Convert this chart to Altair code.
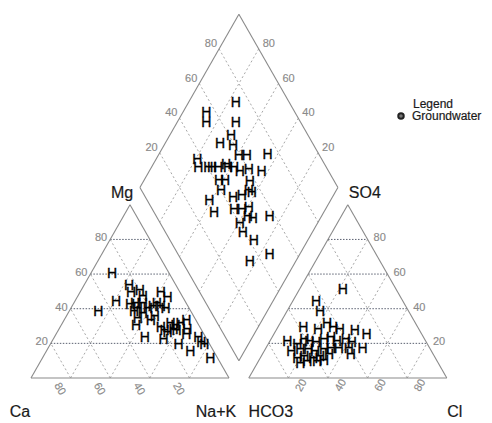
import altair as alt
import numpy as np
import pandas as pd

# ---------------- data (percent) ----------------
# cation triangle: Mg and Na+K (Ca = 100 - Mg - Na+K)
cat_mg = [60, 44, 38, 53, 49, 50, 47, 49, 46, 42, 43, 38, 34, 30, 37, 40, 41, 43, 41, 40, 23, 29,
          27, 22, 31, 30, 28, 31, 33, 28, 25, 19, 15, 23, 20, 19, 11, 35, 33, 40, 43, 26, 27]
cat_nak = [11, 21, 15, 23, 26, 30, 33, 41, 46, 29, 31, 33, 37, 38, 38, 39, 41, 42, 45, 48, 46, 51,
           54, 56, 55, 58, 58, 60, 62, 65, 66, 65, 73, 73, 76, 78, 85, 45, 44, 34, 35, 56, 60]
# anion triangle: SO4 and Cl (HCO3 = 100 - SO4 - Cl)
an_so4 = [51, 44, 38, 29, 28, 31, 29, 28, 27, 25, 21, 19, 22, 21, 20, 22, 23, 21, 22, 20, 15, 16,
          16, 15, 16, 17, 17, 17, 17, 11, 12, 11, 12, 13, 13, 8, 9, 9, 10]
an_cl = [22, 12, 17, 13, 21, 24, 28, 32, 40, 47, 9, 15, 17, 20, 24, 27, 30, 34, 38, 42, 14, 18,
         22, 26, 30, 33, 37, 42, 49, 19, 22, 27, 30, 34, 45, 22, 25, 30, 33]
# diamond: Ca+Mg and SO4+Cl
dia_camg = [76, 88, 85, 70, 69, 72, 65, 45, 59, 55, 79, 76, 71, 66, 63, 58, 54, 50, 43, 62, 59,
            46, 58, 50, 46, 44, 42, 61, 55, 46, 42, 39, 34, 26, 39, 35, 27, 23, 15, 37, 61, 69]
dia_so4cl = [73, 55, 52, 67, 61, 53, 59, 74, 59, 63, 37, 35, 40, 45, 50, 53, 55, 60, 66, 42, 45,
             57, 40, 44, 49, 54, 55, 31, 30, 41, 45, 49, 48, 57, 40, 39, 42, 34, 46, 46, 50, 42]

tick_values = [20, 40, 60, 80]
corner_names = ["Ca", "Na+K", "Mg", "HCO3", "Cl", "SO4"]
legend_title = "Legend"
legend_label = "Groundwater"

GAP = 0.1
S3 = np.sqrt(3) / 2


def cation_xy(mg, nak):
    return nak + mg / 2, mg * S3


def anion_xy(so4, cl):
    return 1 + GAP + cl + so4 / 2, so4 * S3


def diamond_xy(nak, hco3):
    return (nak + 2 + GAP - hco3) / 2, S3 * (2 + GAP - hco3 - nak)


# ---------------- points ----------------
pts = []
for mg, nak in zip(cat_mg, cat_nak):
    pts.append(cation_xy(mg / 100, nak / 100))
for so4, cl in zip(an_so4, an_cl):
    pts.append(anion_xy(so4 / 100, cl / 100))
for camg, so4cl in zip(dia_camg, dia_so4cl):
    pts.append(diamond_xy(1 - camg / 100, 1 - so4cl / 100))
pts_df = pd.DataFrame(pts, columns=["x", "y"])
pts_df["t"] = "H"

# ---------------- frame and grid ----------------
segs = []


def seg(p, q, kind):
    segs.append({"x": p[0], "y": p[1], "x2": q[0], "y2": q[1], "kind": kind})


seg(cation_xy(0, 0), cation_xy(0, 1), "frame")
seg(cation_xy(0, 1), cation_xy(1, 0), "frame")
seg(cation_xy(1, 0), cation_xy(0, 0), "frame")
seg(anion_xy(0, 0), anion_xy(0, 1), "frame")
seg(anion_xy(0, 1), anion_xy(1, 0), "frame")
seg(anion_xy(1, 0), anion_xy(0, 0), "frame")
seg(diamond_xy(1, 1), diamond_xy(0, 1), "frame")
seg(diamond_xy(0, 1), diamond_xy(0, 0), "frame")
seg(diamond_xy(0, 0), diamond_xy(1, 0), "frame")
seg(diamond_xy(1, 0), diamond_xy(1, 1), "frame")

for t in tick_values:
    k = t / 100
    seg(cation_xy(k, 0), cation_xy(k, 1 - k), "hgrid")
    seg(cation_xy(0, k), cation_xy(1 - k, k), "grid")
    seg(cation_xy(0, 1 - k), cation_xy(1 - k, 0), "grid")
    seg(anion_xy(k, 0), anion_xy(k, 1 - k), "hgrid")
    seg(anion_xy(0, k), anion_xy(1 - k, k), "grid")
    seg(anion_xy(0, 1 - k), anion_xy(1 - k, 0), "grid")
    seg(diamond_xy(k, 0), diamond_xy(k, 1), "grid")
    seg(diamond_xy(0, k), diamond_xy(1, k), "grid")

seg_df = pd.DataFrame(segs)

# ---------------- tick labels ----------------
lab_left, lab_right, lab_bl, lab_br = [], [], [], []
for t in tick_values:
    k = t / 100
    x, y = cation_xy(k, 0)                 # Mg, left edge of cation triangle
    lab_left.append({"x": x, "y": y, "t": str(t), "dx": -3, "dy": -1})
    x, y = diamond_xy(0, 1 - k)            # SO4+Cl, upper-left edge of diamond
    lab_left.append({"x": x, "y": y, "t": str(t), "dx": -2, "dy": -5})
    x, y = anion_xy(k, 1 - k)              # SO4, right edge of anion triangle
    lab_right.append({"x": x, "y": y, "t": str(t), "dx": 6, "dy": -1})
    x, y = diamond_xy(1 - k, 0)            # Ca+Mg, upper-right edge of diamond
    lab_right.append({"x": x, "y": y, "t": str(t), "dx": 4, "dy": -5})
    x, y = cation_xy(0, k)                 # Ca along base
    lab_bl.append({"x": x, "y": y, "t": str(100 - t)})
    x, y = anion_xy(0, k)                  # Cl along base
    lab_br.append({"x": x, "y": y, "t": str(t)})

left_df = pd.DataFrame(lab_left)
right_df = pd.DataFrame(lab_right)
bl_df = pd.DataFrame(lab_bl)
br_df = pd.DataFrame(lab_br)

c_ca = cation_xy(0, 0)
c_nak = cation_xy(0, 1)
c_mg = cation_xy(1, 0)
c_hco3 = anion_xy(0, 0)
c_cl = anion_xy(0, 1)
c_so4 = anion_xy(1, 0)
corner_df = pd.DataFrame([
    {"x": c_ca[0], "y": c_ca[1], "t": corner_names[0], "dx": -11, "dy": 34},
    {"x": c_nak[0], "y": c_nak[1], "t": corner_names[1], "dx": -13, "dy": 34},
    {"x": c_mg[0], "y": c_mg[1], "t": corner_names[2], "dx": -8, "dy": -12},
    {"x": c_hco3[0], "y": c_hco3[1], "t": corner_names[3], "dx": 22, "dy": 34},
    {"x": c_cl[0], "y": c_cl[1], "t": corner_names[4], "dx": 8, "dy": 34},
    {"x": c_so4[0], "y": c_so4[1], "t": corner_names[5], "dx": 17, "dy": -12},
])

# ---------------- scales ----------------
XS = alt.Scale(domain=[-23 / 198, 453 / 198], nice=False, zero=False)
YS = alt.Scale(domain=[-37 / 200, 370 / 200], nice=False, zero=False)
FONT = "Liberation Sans"


def X(f="x"):
    return alt.X(f"{f}:Q", scale=XS, axis=None)


def Y(f="y"):
    return alt.Y(f"{f}:Q", scale=YS, axis=None)


base_seg = alt.Chart(seg_df)
frame = base_seg.transform_filter(alt.datum.kind == "frame").mark_rule(
    color="#8a8a8a", strokeWidth=1.1
).encode(x=X(), y=Y(), x2="x2:Q", y2="y2:Q")
hgrid = base_seg.transform_filter(alt.datum.kind == "hgrid").mark_rule(
    color="#5a6070", strokeWidth=1, strokeDash=[1.5, 1.5]
).encode(x=X(), y=Y(), x2="x2:Q", y2="y2:Q")
grid = base_seg.transform_filter(alt.datum.kind == "grid").mark_rule(
    color="#a8a8a8", strokeWidth=1, strokeDash=[2, 2.5]
).encode(x=X(), y=Y(), x2="x2:Q", y2="y2:Q")

points = alt.Chart(pts_df).mark_text(
    font=FONT, fontSize=14, fill="#000000", stroke="#000000", strokeWidth=0.35,
    align="center", baseline="middle"
).encode(x=X(), y=Y(), text="t:N")

tick_style = dict(font=FONT, fontSize=11, fill="#8a8a8a", stroke="#8a8a8a", strokeWidth=0.15)
bl_lab = alt.Chart(bl_df).mark_text(align="center", baseline="middle", angle=60, dx=4, dy=15,
                                    **tick_style).encode(x=X(), y=Y(), text="t:N")
br_lab = alt.Chart(br_df).mark_text(align="center", baseline="middle", angle=300, dx=0, dy=15,
                                    **tick_style).encode(x=X(), y=Y(), text="t:N")


def offset_layers(df, align):
    layers = []
    for (dx, dy), sub in df.groupby(["dx", "dy"]):
        layers.append(alt.Chart(sub).mark_text(align=align, baseline="middle", dx=float(dx),
                                               dy=float(dy), **tick_style).encode(
            x=X(), y=Y(), text="t:N"))
    return layers


dark_style = dict(font=FONT, fill="#1a1a1a", stroke="#1a1a1a", strokeWidth=0.2)
corner_layers = []
for _, r in corner_df.iterrows():
    corner_layers.append(alt.Chart(corner_df[corner_df.t == r.t]).mark_text(
        fontSize=16, align="center", baseline="middle",
        dx=float(r.dx), dy=float(r.dy), **dark_style).encode(x=X(), y=Y(), text="t:N"))

legend_df = pd.DataFrame({"t": [legend_title]})
leg_title = alt.Chart(legend_df).mark_text(fontSize=12, align="left", baseline="middle",
                                           **dark_style).encode(
    x=alt.value(405), y=alt.value(96), text="t:N")
leg_lab_df = pd.DataFrame({"t": [legend_label]})
leg_label = alt.Chart(leg_lab_df).mark_text(fontSize=12, align="left", baseline="middle",
                                            **dark_style).encode(
    x=alt.value(404), y=alt.value(108), text="t:N")
leg_sym = alt.Chart(leg_lab_df).mark_point(shape="circle", size=30, filled=True, color="#777777",
                                           stroke="#222222", strokeWidth=2, opacity=1).encode(
    x=alt.value(393), y=alt.value(108))

layers = [grid, hgrid, frame, points] + offset_layers(left_df, "right") + \
    offset_layers(right_df, "left") + [bl_lab, br_lab] + corner_layers + [leg_title, leg_label, leg_sym]

chart = alt.layer(*layers).properties(
    width=476, height=407, autosize=alt.AutoSizeParams(type="none"),
    padding={"left": 0, "top": 0, "right": 0, "bottom": 12},
    background="white"
).configure_view(strokeWidth=0)

chart.save("out.html", embed_options={"renderer": "svg", "actions": False})
